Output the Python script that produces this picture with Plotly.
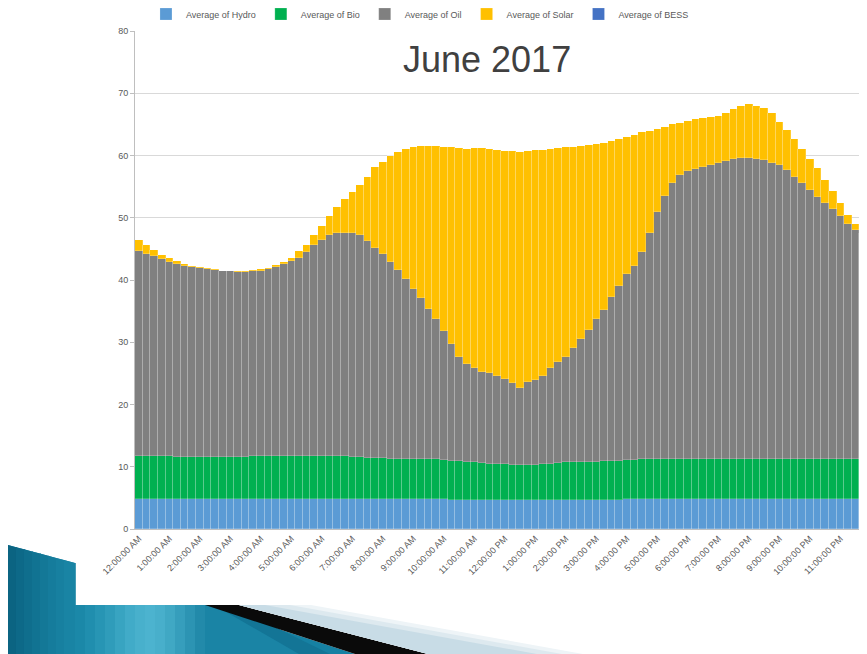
import plotly.graph_objects as go

# ---- categories: 15-minute intervals over one day ----
hours12 = [12, 1, 2, 3, 4, 5, 6, 7, 8, 9, 10, 11]
times = []
for half in ["AM", "PM"]:
    for h in hours12:
        for m in ["00", "15", "30", "45"]:
            times.append(f"{h}:{m}:00 {half}")
hour_labels = [f"{h}:00:00 {half}" for half in ["AM", "PM"] for h in hours12]

# ---- series (MW) ----
hydro = [4.9]*28 + [4.8]*13 + [4.7]*23 + [4.8]*32
bio = [6.8, 6.8, 6.8, 6.8, 6.8, 6.7, 6.7, 6.7, 6.7, 6.7, 6.7, 6.7,
       6.7, 6.7, 6.7, 6.8, 6.8, 6.8, 6.8, 6.8, 6.8, 6.8, 6.8, 6.8,
       6.8, 6.8, 6.8, 6.8, 6.7, 6.7, 6.6, 6.6, 6.6, 6.5, 6.5, 6.5,
       6.5, 6.5, 6.4, 6.4, 6.3, 6.3, 6.2, 6.1, 6.0, 5.9, 5.8, 5.8,
       5.7, 5.6, 5.6, 5.6, 5.6, 5.7, 5.8, 5.9, 6.0, 6.0, 6.1, 6.1,
       6.1, 6.2, 6.2, 6.3, 6.3, 6.3, 6.4, 6.4, 6.4, 6.4, 6.4, 6.4,
       6.4, 6.4, 6.4, 6.4, 6.4, 6.4, 6.4, 6.4, 6.4, 6.4, 6.4, 6.4,
       6.4, 6.4, 6.4, 6.5, 6.5, 6.5, 6.5, 6.5, 6.5, 6.5, 6.5, 6.5]
oil = [33.0, 32.5, 32.1, 31.6, 31.2, 31.0, 30.7, 30.5, 30.3, 30.2, 30.0, 29.8,
       29.8, 29.7, 29.7, 29.7, 29.8, 30.1, 30.4, 30.8, 31.3, 31.9, 32.8, 33.9,
       34.8, 35.5, 35.8, 35.9, 36.0, 35.7, 34.9, 33.8, 32.8, 31.6, 30.3, 28.8,
       27.3, 25.8, 24.1, 22.6, 20.7, 18.8, 16.7, 15.7, 15.1, 14.7, 14.5, 14.1,
       13.7, 13.1, 12.3, 13.3, 13.7, 14.2, 15.4, 16.2, 17.0, 18.3, 19.7, 21.2,
       22.9, 24.3, 26.3, 28.0, 29.8, 31.2, 33.3, 36.3, 39.8, 42.3, 44.4, 45.6,
       46.3, 46.7, 47.0, 47.3, 47.6, 47.9, 48.2, 48.4, 48.4, 48.3, 48.1, 47.6,
       47.2, 46.4, 45.4, 44.3, 43.1, 42.0, 41.1, 40.1, 39.0, 37.7, 36.7, 35.7]
solar = [1.7, 1.4, 1.0, 0.7, 0.6, 0.4, 0.3, 0.2, 0.2, 0.1, 0.1, 0.1,
         0.1, 0.1, 0.1, 0.2, 0.2, 0.2, 0.3, 0.4, 0.6, 1.0, 1.2, 1.6,
         2.2, 3.1, 4.3, 5.4, 6.7, 8.1, 10.3, 12.9, 14.8, 17.1, 18.9, 20.9,
         22.7, 24.4, 26.3, 27.8, 29.6, 31.5, 33.6, 34.6, 35.4, 35.9, 36.0, 36.3,
         36.7, 37.3, 38.0, 37.1, 36.9, 36.3, 35.1, 34.4, 33.6, 32.4, 31.1, 29.7,
         28.1, 26.8, 25.1, 23.6, 22.1, 21.0, 19.2, 16.5, 13.3, 11.1, 9.4, 8.5,
         8.1, 8.0, 7.8, 7.7, 7.6, 7.8, 8.1, 8.4, 8.6, 8.5, 8.4, 8.0,
         7.0, 6.5, 6.0, 5.4, 5.0, 4.7, 3.6, 2.9, 2.1, 1.5, 1.0, 0.5]
bess = [0.0]*96

series_names = ["Average of Hydro", "Average of Bio", "Average of Oil",
                "Average of Solar", "Average of BESS"]
series_colors = ["#5B9BD5", "#00B050", "#808080", "#FFC000", "#4472C4"]
series_values = [hydro, bio, oil, solar, bess]

y_ticks = [0, 10, 20, 30, 40, 50, 60, 70, 80]

fig = go.Figure()
for name, color, vals in zip(series_names, series_colors, series_values):
    fig.add_trace(go.Bar(x=times, y=vals, name=name,
                         marker=dict(color=color,
                                     line=dict(width=0.7, color="rgba(255,255,255,0.28)"))))

# page offset of the figure (browser body margin)
OFF = 8
W, H = 867 - OFF, 654 - OFF
# plot-area edges in screen pixels
L, R_EDGE, T, B = 135, 867, 31, 529


def px(x):
    return (x - L) / (R_EDGE - L)


def py(y):
    return (B - y) / (B - T)


def path(points):
    return "M " + " L ".join(f"{px(x):.5f},{py(y):.5f}" for x, y in points) + " Z"


def left_top(x):
    return 545 + (x - 8) * 18 / 67


shapes = []
shapes.append(dict(type="path", xref="paper", yref="paper", layer="above",
                   path=path([(8, 545), (75, 563), (75, 605), (205, 605), (355, 654), (8, 654)]),
                   fillcolor="#1681A3", line=dict(width=0)))
strip_cols = [(8, "#0B6482"), (16, "#0D6988"), (24, "#0F6E8D"), (32, "#117392"),
              (40, "#137897"), (48, "#157C9C"), (56, "#1780A0"), (64, "#1984A4"),
              (75, "#1B88A8"), (85, "#208EAE"), (95, "#2795B4"), (105, "#2F9CBA"),
              (115, "#38A4C1"), (125, "#41ABC8"), (135, "#48B0CC"), (145, "#4CB3CF"),
              (155, "#48AFCB"), (165, "#40A8C4"), (175, "#369EBC"), (185, "#2C94B3"),
              (195, "#228AAA")]
for i, (x0, c) in enumerate(strip_cols):
    x1 = strip_cols[i + 1][0] if i + 1 < len(strip_cols) else 205
    xe = x1 + 0.8
    if x1 <= 75:
        pts = [(x0, left_top(x0)), (x1, left_top(x1)), (xe, left_top(x1)), (xe, 654), (x0, 654)]
    else:
        pts = [(x0, 605), (xe, 605), (xe, 654), (x0, 654)]
    shapes.append(dict(type="path", xref="paper", yref="paper", layer="above",
                       path=path(pts), fillcolor=c, line=dict(width=0)))
shapes.append(dict(type="path", xref="paper", yref="paper", layer="above",
                   path=path([(205, 605), (215, 605), (300, 654), (205, 654)]),
                   fillcolor="#1A84A5", line=dict(width=0)))
shapes.append(dict(type="path", xref="paper", yref="paper", layer="above",
                   path=path([(214, 605), (230, 605), (330, 654), (299, 654)]),
                   fillcolor="#137596", line=dict(width=0)))
shapes.append(dict(type="path", xref="paper", yref="paper", layer="above",
                   path=path([(205, 605), (239, 605), (428, 654), (355, 654)]),
                   fillcolor="#0A0A0A", line=dict(width=0)))
for (b, c) in [(311, "#EEF4F7"), (290, "#DDE9EF"), (265, "#C8DCE6")]:
    shapes.append(dict(type="path", xref="paper", yref="paper", layer="above",
                       path=path([(239, 605), (b, 605), (b + 272, 654), (428, 654)]),
                       fillcolor=c, line=dict(width=0)))

fig.update_layout(
    width=W, height=H,
    margin=dict(l=L - OFF, r=W - (R_EDGE - OFF), t=T - OFF, b=H - (B - OFF), autoexpand=False),
    paper_bgcolor="white", plot_bgcolor="white",
    barmode="stack", bargap=0,
    font=dict(family="Liberation Sans, Arial, sans-serif", color="#595959", size=9),
    showlegend=True,
    legend=dict(orientation="h", x=0.015, xanchor="left", y=py(14), yanchor="middle",
                font=dict(size=9, color="#595959"), itemwidth=30,
                traceorder="normal", bgcolor="rgba(0,0,0,0)"),
    xaxis=dict(type="category", range=[-0.5, 95.5], tickmode="array",
               tickvals=hour_labels, ticktext=hour_labels, tickangle=-45,
               tickfont=dict(size=9, color="#595959"), showgrid=False,
               showline=True, linecolor="#BFBFBF", ticks="", zeroline=False),
    yaxis=dict(range=[0, 80], tickmode="array", tickvals=y_ticks,
               tickfont=dict(size=9, color="#595959"), showgrid=True,
               gridcolor="#D9D9D9", gridwidth=1, showline=True, linecolor="#BFBFBF",
               ticks="outside", ticklen=4, tickcolor="#BFBFBF", zeroline=False),
    annotations=[dict(text="June 2017", xref="paper", yref="paper",
                      x=px(487), y=py(60), xanchor="center", yanchor="middle",
                      showarrow=False,
                      font=dict(size=36, color="#404040",
                                family="Liberation Sans, Arial, sans-serif"))],
    shapes=shapes,
)

fig.write_html("out.html")
